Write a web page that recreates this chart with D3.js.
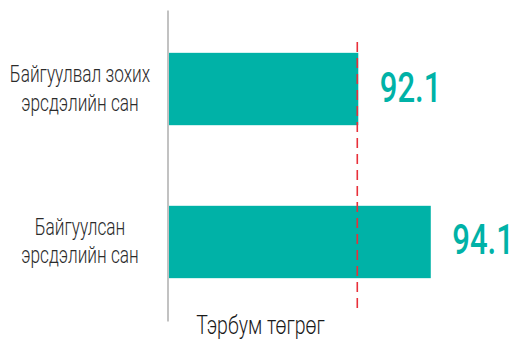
<!DOCTYPE html>
<html>
<head>
<meta charset="utf-8">
<script src="https://cdn.jsdelivr.net/npm/d3@7"></script>
<style>
  html, body { margin: 0; padding: 0; background: #ffffff; }
  svg { display: block; }
</style>
</head>
<body>
<svg id="chart" width="515" height="340"></svg>
<script>
// ---- data ----
const categories = [
  ["Байгуулвал зохих", "эрсдэлийн сан"],
  ["Байгуулсан", "эрсдэлийн сан"]
];
const values = [92.1, 94.1];
const valueLabels = ["92.1", "94.1"];
const referenceValue = 92.1;
const axisTitle = "Тэрбум төгрөг";

// ---- layout ----
const W = 515, H = 340;
const teal = "#00B2A7";
const red = "#E8303A";
const svg = d3.select("#chart");

const x = d3.scaleLinear().domain([86.85, 95]).range([168, 463.4]);
const y = d3.scaleBand()
  .domain(d3.range(values.length))
  .range([10, 321])
  .paddingInner(0.527)
  .paddingOuter(0.28);

// bars
svg.selectAll("rect.bar")
  .data(values)
  .join("rect")
  .attr("class", "bar")
  .attr("x", x(x.domain()[0]) + 1)
  .attr("y", (d, i) => y(i))
  .attr("width", d => x(d) - x(x.domain()[0]) - 1)
  .attr("height", y.bandwidth())
  .attr("fill", teal);

// axis line (vertical)
const yAxis = d3.axisLeft(y).tickSize(0).tickFormat("");
svg.append("g")
  .attr("transform", `translate(${x(x.domain()[0]) - 0.5},0)`)
  .call(yAxis)
  .call(g => g.select(".domain").attr("stroke", "#b3b3b3").attr("stroke-width", 1.6));

// reference dashed line
svg.append("line")
  .attr("x1", x(referenceValue) - 1)
  .attr("x2", x(referenceValue) - 1)
  .attr("y1", 42)
  .attr("y2", 308)
  .attr("stroke", red)
  .attr("stroke-width", 1.6)
  .attr("stroke-dasharray", "10,6");

// category labels
const labelG = svg.selectAll("g.cat")
  .data(categories)
  .join("g")
  .attr("class", "cat")
  .attr("transform", (d, i) => `translate(80,${y(i) + y.bandwidth() / 2})`);
labelG.selectAll("text")
  .data(d => d)
  .join("text")
  .attr("transform", (d, j) => `translate(0,${j === 0 ? -7 : 21.5}) scale(0.75,1)`)
  .attr("text-anchor", "middle")
  .attr("font-family", "Roboto, 'Noto Sans', sans-serif")
  .attr("font-weight", 300)
  .attr("font-size", 23)
  .attr("fill", "#2b2b2b")
  .text(d => d);

// value labels
svg.selectAll("text.val")
  .data(values)
  .join("text")
  .attr("class", "val")
  .attr("transform", (d, i) => `translate(${x(d) + 21.5},${y(i) + y.bandwidth() / 2 + 12.5}) scale(0.74,1)`)
  .attr("font-family", "Roboto, 'Noto Sans', sans-serif")
  .attr("font-weight", 500)
  .attr("font-size", 42)
  .attr("fill", teal)
  .text((d, i) => valueLabels[i]);

// axis title
svg.append("text")
  .attr("transform", `translate(260.5,334.3) scale(0.75,1)`)
  .attr("text-anchor", "middle")
  .attr("font-family", "Roboto, 'Noto Sans', sans-serif")
  .attr("font-weight", 300)
  .attr("font-size", 26)
  .attr("fill", "#1a1a1a")
  .text(axisTitle);
</script>
</body>
</html>
